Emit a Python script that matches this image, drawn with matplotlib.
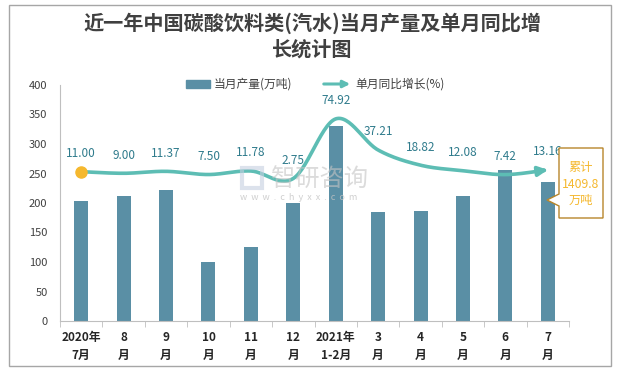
import numpy as np
import matplotlib
matplotlib.use("Agg")
import matplotlib.pyplot as plt
from matplotlib.patches import Polygon, Rectangle, FancyArrowPatch

plt.rcParams['font.family'] = ['Noto Sans CJK SC', 'DejaVu Sans']

categories = ["2020年\n7月", "8\n月", "9\n月", "10\n月", "11\n月", "12\n月",
              "2021年\n1-2月", "3\n月", "4\n月", "5\n月", "6\n月", "7\n月"]
production = [203, 212, 222, 100, 126, 200, 330, 185, 186, 212, 256, 236]
growth = [11.00, 9.00, 11.37, 7.50, 11.78, 2.75, 74.92, 37.21, 18.82, 12.08, 7.42, 13.16]
growth_labels = ["11.00", "9.00", "11.37", "7.50", "11.78", "2.75", "74.92",
                 "37.21", "18.82", "12.08", "7.42", "13.16"]
cumulative_text = "累计\n1409.8\n万吨"
title = "近一年中国碳酸饮料类(汽水)当月产量及单月同比增\n长统计图"

W, H = 618, 370
fig = plt.figure(figsize=(W / 100, H / 100), dpi=100)

# outer frame
fig.patches.append(Rectangle((8.5 / W, 1 - 366 / H), 602 / W, 361.5 / H, transform=fig.transFigure,
                             fill=False, edgecolor='#a6a6a6', linewidth=1.0))

ax = fig.add_axes([60 / W, 1 - 321 / H, 509 / W, 236 / H])
x = np.arange(len(categories))
ax.bar(x, production, width=0.33, color='#5A8FA5', zorder=2)
ax.set_xlim(-0.5, len(categories) - 0.5)
ax.set_ylim(0, 400)
ax.set_yticks(np.arange(0, 401, 50))
ax.tick_params(axis='y', length=0, labelsize=8, labelcolor='#404040', pad=9)
ax.set_xticks(x)
ax.set_xticklabels(categories, fontsize=8.5, fontweight='bold', color='#262626', linespacing=1.55)
ax.set_xticks(np.arange(-0.5, len(categories), 1), minor=True)
ax.tick_params(axis='x', which='major', length=0, pad=7)
ax.tick_params(axis='x', which='minor', length=4, color='#bfbfbf')
for s in ['top', 'right']:
    ax.spines[s].set_visible(False)
ax.spines['left'].set_color('#bfbfbf')
ax.spines['bottom'].set_color('#bfbfbf')

# watermark
fig.text(271 / W, 1 - 180 / H, "智研咨询", fontsize=17.5, color='#c4c4c4', alpha=0.6,
         ha='left', va='center')
fig.text(240 / W, 1 - 198 / H, "w  w  w  .  c  h  y  x  x  .  c  o  m", fontsize=6.5,
         color='#c4c4c4', alpha=0.8, ha='left', va='center')
fig.patches.append(Rectangle((242 / W, 1 - 188 / H), 20 / W, 20 / H, transform=fig.transFigure,
                             fill=False, edgecolor='#c5cfe0', linewidth=3, alpha=0.6))

# secondary axis for growth
ax2 = ax.twinx()
ax2.set_ylim(-170, 116)
ax2.axis('off')

# Excel-like smoothed curve computed in display space
fig.canvas.draw()
pts = ax2.transData.transform(np.column_stack([x, growth]))
n = len(pts)
curve = []
for i in range(n - 1):
    p0 = pts[i - 1] if i > 0 else pts[i]
    p1 = pts[i]
    p2 = pts[i + 1]
    p3 = pts[i + 2] if i + 2 < n else pts[i + 1]
    c1 = p1 + (p2 - p0) / 6
    c2 = p2 - (p3 - p1) / 6
    t = np.linspace(0, 1, 30)[:, None]
    seg = (1 - t) ** 3 * p1 + 3 * (1 - t) ** 2 * t * c1 + 3 * (1 - t) * t ** 2 * c2 + t ** 3 * p2
    curve.append(seg if i == 0 else seg[1:])
curve = np.vstack(curve)
curve_data = ax2.transData.inverted().transform(curve)
ax2.plot(curve_data[:-4, 0], curve_data[:-4, 1], color='#5DBDB4', linewidth=2.6,
         solid_capstyle='round', zorder=3)
ax2.annotate('', xy=(curve_data[-1, 0], curve_data[-1, 1]),
             xytext=(curve_data[-6, 0], curve_data[-6, 1]),
             arrowprops=dict(arrowstyle='-|>', color='#5DBDB4', lw=2.6, mutation_scale=14,
                             shrinkA=0, shrinkB=0))
ax2.plot([x[0]], [growth[0]], 'o', color='#F5B82E', markersize=8, zorder=4)

for xi, yi, lab in zip(x, growth, growth_labels):
    ax2.annotate(lab, (xi, yi), xytext=(0, 13), textcoords='offset points',
                 ha='center', va='center', fontsize=8.5, color='#2F7B8C', zorder=5)

# legend
fig.patches.append(Rectangle((186 / W, 1 - 88 / H), 24 / W, 8 / H, transform=fig.transFigure,
                             color='#5A8FA5'))
fig.text(214 / W, 1 - 84 / H, "当月产量(万吨)", fontsize=8.5, color='#404040', ha='left', va='center')
fig.add_artist(FancyArrowPatch((321 / W, 1 - 84 / H), (353 / W, 1 - 84 / H),
                               transform=fig.transFigure, arrowstyle='-|>',
                               color='#5DBDB4', lw=2.2, mutation_scale=10))
fig.text(355 / W, 1 - 84 / H, "单月同比增长(%)", fontsize=8.5, color='#404040', ha='left', va='center')

# title
fig.text(0.505, 1 - 36 / H, title, fontsize=14.5, fontweight='bold', color='#404040',
         ha='center', va='center', linespacing=1.3)

# callout box
box = [(559, 148), (603, 148), (603, 218), (559, 218), (559, 206), (547, 200), (559, 194), (559, 148)]
poly = Polygon([(px / W, 1 - py / H) for px, py in box], closed=True, transform=fig.transFigure,
               facecolor='white', edgecolor='#B8862B', linewidth=1.0, zorder=10)
fig.patches.append(poly)
fig.text(581 / W, 1 - 184 / H, cumulative_text, fontsize=8.8, color='#F5B82E', ha='center',
         va='center', linespacing=1.3, zorder=11)

fig.savefig("out.png", dpi=100)
